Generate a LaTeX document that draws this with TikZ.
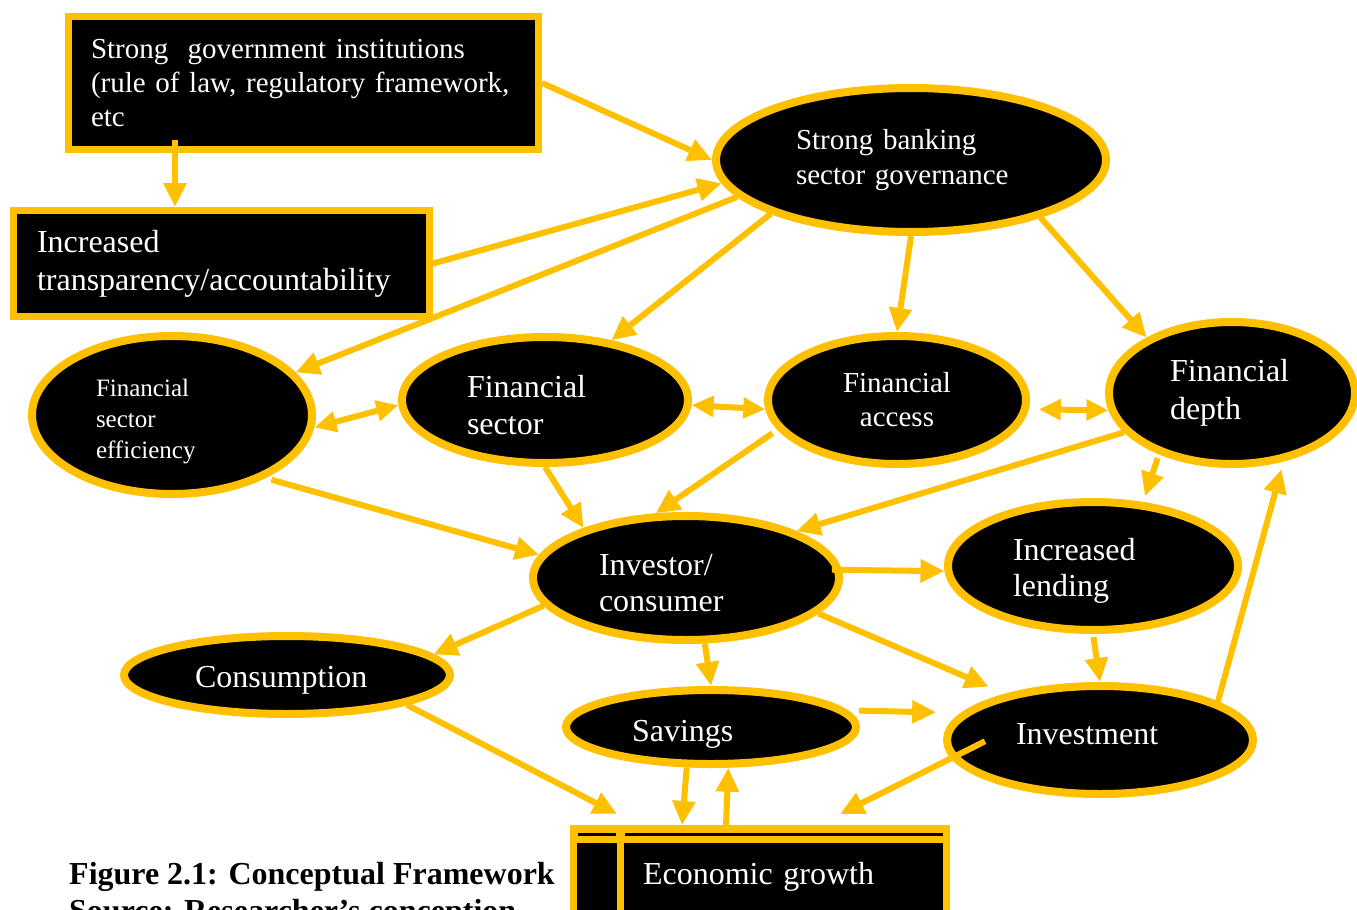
\documentclass[tikz,border=0pt]{standalone}
\usepackage{fontspec}
\setmainfont{Liberation Serif}
\usetikzlibrary{shapes.geometric,arrows.meta}
\definecolor{gold}{HTML}{FFC000}

\begin{document}
\begin{tikzpicture}[x=1pt,y=-1pt,
  oval/.style={ellipse,draw=gold,line width=8pt,fill=black,text=white,inner sep=1pt,align=left,font=\fontsize{32}{37}\selectfont},
  box/.style={rectangle,draw=gold,line width=7pt,fill=black,text=white,inner sep=0pt,align=left},
  arr/.style={draw=gold,line width=6pt,-{Triangle[length=24pt,width=22pt]}},
  twoway/.style={draw=gold,line width=6pt,{Triangle[length=22pt,width=20pt]}-{Triangle[length=22pt,width=20pt]}}]
\useasboundingbox (0,0) rectangle (1357,910);

\node[box,minimum width=470pt,minimum height=133pt,text width=425pt,font=\fontsize{29}{34}\selectfont] (gov) at (303.5,83) {Strong\ \ government institutions\\(rule of law, regulatory framework,\\etc};
\node[box,minimum width=416pt,minimum height=106pt,text width=369pt,font=\fontsize{32}{38}\selectfont] (transp) at (221.5,263.5) {Increased\\transparency/accountability};

\node[oval,minimum width=390pt,minimum height=144pt,text width=230pt,font=\fontsize{29}{35}\selectfont] (bank) at (911,160) {Strong banking\\sector governance};
\node[oval,minimum width=280pt,minimum height=158pt,text width=152pt,font=\fontsize{25}{31}\selectfont] (eff) at (172,415) {\rule{0pt}{30pt}Financial\\sector\\efficiency};
\node[oval,minimum width=286pt,minimum height=126pt,text width=156pt] (sector) at (545,400) {\rule{0pt}{32pt}Financial\\sector};
\node[oval,minimum width=258pt,minimum height=128pt,align=center,font=\fontsize{29}{34}\selectfont] (access) at (897,400) {Financial\\access};
\node[oval,minimum width=246pt,minimum height=142pt,text width=124pt,font=\fontsize{32}{38}\selectfont] (depth) at (1232,393) {Financial\\depth};
\node[oval,minimum width=306pt,minimum height=124pt,text width=174pt,font=\fontsize{32}{36}\selectfont] (invest) at (686,578) {\rule{0pt}{32pt}Investor/\\consumer};
\node[oval,minimum width=290pt,minimum height=128pt,text width=160pt,font=\fontsize{32}{36}\selectfont] (lend) at (1093,566) {\rule{0pt}{32pt}Increased\\lending};
\node[oval,minimum width=326pt,minimum height=78pt,text width=184pt] (cons) at (287,675) {\rule{0pt}{32pt}Consumption};
\node[oval,minimum width=290pt,minimum height=74pt,text width=158pt] (sav) at (711,727) {\rule{0pt}{36pt}Savings};
\node[oval,minimum width=306pt,minimum height=108pt,text width=168pt] (inv) at (1100,740) {\rule[-12pt]{0pt}{12pt}Investment};

% two-column cell for the growth box
\fill[gold] (570,825) rectangle (950,915);
\fill[black] (578,833) rectangle (616,836);
\fill[black] (625,833) rectangle (943,836);
\fill[black] (577,843) rectangle (617,915);
\fill[black] (624,843) rectangle (943,915);
\node[text=white,font=\fontsize{32}{37}\selectfont,text width=234pt,align=left,inner sep=0pt,outer sep=0pt,minimum width=380pt,minimum height=90pt] (growth) at (760,870) {\rule{0pt}{36pt}Economic growth};

\node[anchor=west,align=left,inner sep=0pt,font=\bfseries\fontsize{32}{37}\selectfont] (cap) at (69,895) {Figure 2.1: Conceptual Framework\\Source: Researcher’s conception};

\draw[arr] (gov.east) -- (bank.west);
\draw[arr] ([xshift=-128.5pt,yshift=13pt]gov.south) -- ([xshift=-46.5pt]transp.north);
\draw[arr] (transp.east) -- (bank.187);
\draw[arr] (bank.192) -- (eff.19);
\draw[arr] (bank.201) -- (sector.42);
\draw[arr] (bank.south) -- (access.north);
\draw[arr] (bank.-24) -- (depth.147);

\draw[twoway] (eff.-5) -- (sector.182);
\draw[twoway] (sector.-2) -- (access.184);
\draw[twoway,shorten <=10pt] (access.-4) -- (depth.188);

\draw[arr,shorten <=6pt] (eff.-34) -- (invest.171);
\draw[arr] (sector.south) -- (invest.154);
\draw[arr,shorten <=6pt] (access.194) -- (invest.115);
\draw[arr] (depth.200) -- (invest.23);
\draw[arr,shorten <=4pt,shorten >=6pt] (depth.220) -- (lend.52);

\draw[arr,shorten <=-10pt] (invest.3) -- (lend.182);
\draw[arr] (invest.191) -- (cons.8);
\draw[arr] (invest.-74) -- (sav.north);
\draw[arr,shorten >=18pt] (invest.-15) -- (inv.154);
\draw[arr,shorten <=3pt] (lend.south) -- (inv.north);
\draw[arr,shorten <=-6pt,shorten >=8pt] (inv.18) -- (depth.-53);
\draw[arr,shorten <=12pt,shorten >=25pt] (sav.7) -- (inv.169);

\draw[arr] (cons.-14) -- ([xshift=-143pt,yshift=11pt]growth.north);
\draw[arr] (sav.-121) -- ([xshift=-78pt]growth.north);
\draw[arr] ([xshift=-34pt]growth.north) -- (sav.-67);
\draw[arr,shorten <=-38pt] (inv.187) -- ([xshift=80pt,yshift=11pt]growth.north);
\end{tikzpicture}
\end{document}
